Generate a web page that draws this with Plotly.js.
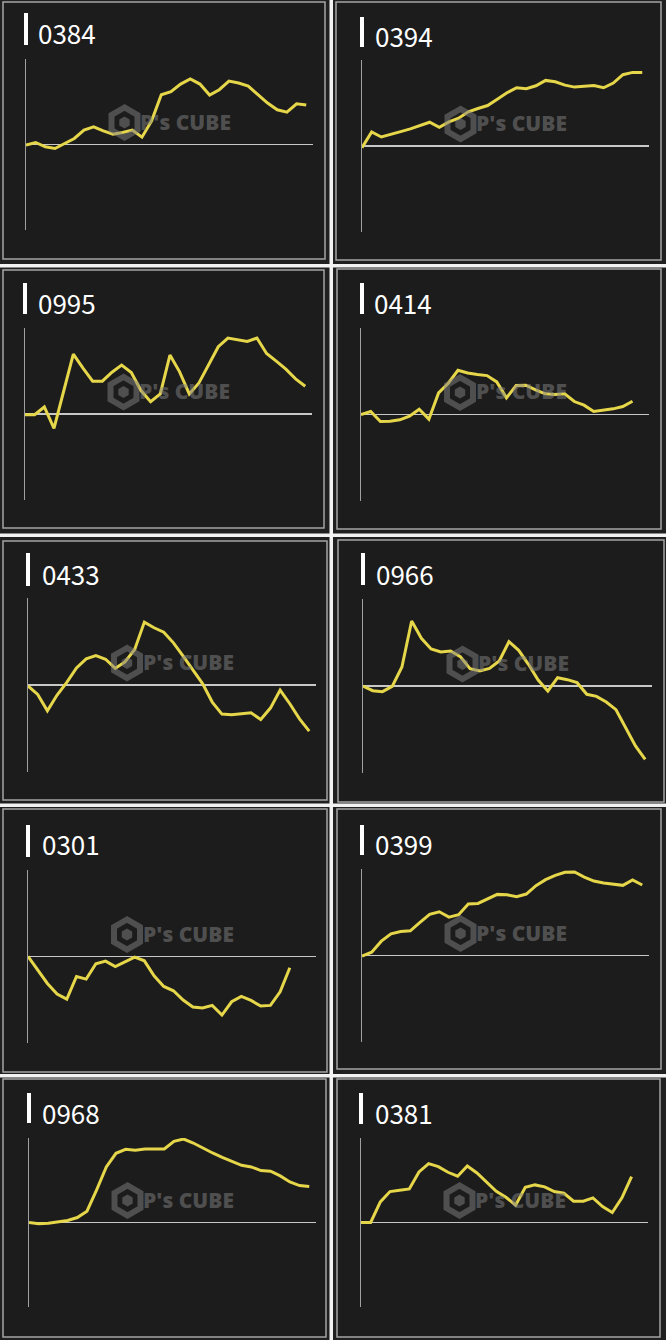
<!DOCTYPE html>
<html><head><meta charset="utf-8">
<script src="https://cdn.plot.ly/plotly-3.0.1.min.js"></script>
<style>html,body{margin:0;padding:0;background:#202020;}#chart{width:666px;height:1340px;}</style>
</head><body><div id="chart"></div>
<script>
const labels = ["0384","0394","0995","0414","0433","0966","0301","0399","0968","0381"];
const days = [1,2,3,4,5,6,7,8,9,10,11,12,13,14,15,16,17,18,19,20,21,22,23,24,25,26,27,28,29,30];

const s0384 = [-2,6,-7,-12,3,18,43,53,41,31,36,43,22,71,149,158,181,196,181,148,164,190,184,175,149,124,104,97,122,118];
const s0394 = [-5,42,27,34,43,51,60,71,56,72,83,102,112,121,140,159,174,171,180,196,192,182,176,178,181,174,188,213,220,220];
const s0995 = [-2,-2,21,-43,68,179,137,98,98,125,146,124,70,37,60,176,126,60,93,146,201,227,222,217,227,181,158,134,105,83];
const s0414 = [0,9,-21,-20,-16,-5,16,-14,65,94,133,125,120,117,98,50,87,88,74,62,60,62,39,28,9,12,17,24,40];
const s0433 = [-3,-28,-77,-30,8,51,78,88,77,50,69,106,188,171,158,126,86,45,4,-51,-87,-89,-87,-83,-103,-69,-15,-56,-101,-138];
const s0966 = [0,-14,-17,-1,57,195,143,111,102,105,88,52,45,53,75,133,107,65,18,-15,25,19,10,-25,-31,-48,-71,-127,-180,-220];
const s0301 = [0,-41,-81,-113,-128,-60,-68,-22,-14,-30,-17,-2,-13,-58,-90,-103,-131,-152,-155,-147,-176,-136,-120,-132,-149,-147,-106,-34];
const s0399 = [-2,10,43,65,72,74,99,123,131,115,122,154,156,170,183,182,176,184,209,227,240,249,250,235,223,217,213,210,226,211];
const s0968 = [0,-4,-2,3,6,15,34,98,167,208,220,217,221,221,221,244,251,239,223,209,196,184,172,167,156,154,140,122,111,108];
const s0381 = [0,0,62,93,97,101,152,177,168,151,139,170,149,121,94,76,52,106,113,107,93,88,64,64,74,48,30,74,138];

const series = [s0384,s0394,s0995,s0414,s0433,s0966,s0301,s0399,s0968,s0381];

const W = 666, H = 1340;
// plot boxes in px: [x0, x1, y0, y1, halfRange]
const boxes = [
  [26,313,59,230,256],[362,649,60,232,257],
  [25,312,328,500,257],[361,649,328,501,260],
  [28,316,598,772,260],[363,652,599,773,261],
  [28,316,870,1043,260],[362,649,869,1042,259],
  [29,316,1138,1307,254],[361,648,1138,1307,254]
];
// tile borders px: [x0,x1,y0,y1]
const tiles = [
  [3,325,2,259],[336,661,2,260],
  [3,324,270,528],[337,661,269,529],
  [3,327,541,800],[338,664,540,802],
  [3,327,809,1072],[337,661,809,1069],
  [3,326,1079,1337],[337,660,1079,1337]
];
// title bar px [x0,x1,y0,y1], text [x, ycenter]
const bars = [
  [24,28,13,45,38,32],[360,364,17,47,375,35],
  [23,27,283,314,38,302],[360,364,283,314,374,302],
  [26,30,553,586,42,572],[361,365,553,585,376,572],
  [26,30,825,857,42,843],[360,364,825,855,375,843],
  [27,31,1093,1123,42,1111],[359,363,1093,1124,375,1111]
];

const px = x => x / W;
const py = y => 1 - y / H;

const traces = [];
const layout = {
  width: W, height: H,
  margin: {l:0, r:0, t:0, b:0},
  paper_bgcolor: '#202020',
  plot_bgcolor: 'rgba(0,0,0,0)',
  showlegend: false,
  shapes: [],
  annotations: []
};

// white separators
const seps = [[0,666,264,267.5],[0,666,533.5,537],[0,666,803.5,807],[0,666,1074,1077.5],[329.5,333,0,1340]];
seps.forEach(s => layout.shapes.push({type:'rect', xref:'paper', yref:'paper', layer:'below',
  x0:px(s[0]), x1:px(s[1]), y0:py(s[3]), y1:py(s[2]), fillcolor:'#f2f2f2', line:{width:0}}));

tiles.forEach(t => layout.shapes.push({type:'rect', xref:'paper', yref:'paper', layer:'below',
  x0:px(t[0]), x1:px(t[1]), y0:py(t[3]), y1:py(t[2]), fillcolor:'#1c1c1c',
  line:{color:'#a4a4a4', width:1.5}}));

series.forEach((s, i) => {
  const n = i === 0 ? '' : String(i + 1);
  const b = boxes[i];
  traces.push({
    type:'scatter', mode:'lines', x: days.slice(0, s.length), y: s,
    xaxis:'x' + n, yaxis:'y' + n, hoverinfo:'skip',
    line:{color:'#e6d64a', width:3}
  });
  layout['xaxis' + n] = {
    domain:[px(b[0]), px(b[1])], range:[1, 30.7], anchor:'y' + n,
    showgrid:false, zeroline:false, showline:false, showticklabels:false, ticks:''
  };
  layout['yaxis' + n] = {
    domain:[py(b[3]), py(b[2])], range:[-b[4], b[4]], anchor:'x' + n,
    showgrid:false, zeroline:true, zerolinecolor:'#c8c8c8', zerolinewidth:1.4,
    showline:true, linecolor:'#a0a0a0', linewidth:1.4, showticklabels:false, ticks:''
  };
  const br = bars[i];
  layout.shapes.push({type:'rect', xref:'paper', yref:'paper', layer:'above',
    x0:px(br[0]), x1:px(br[1]), y0:py(br[3]), y1:py(br[2]), fillcolor:'#ffffff', line:{width:0}});
  layout.annotations.push({xref:'paper', yref:'paper', x:px(br[4] - 2), y:py(br[5] + 1),
    xanchor:'left', yanchor:'middle', showarrow:false, text:labels[i],
    font:{family:'"Noto Sans CJK JP", "Noto Sans", sans-serif', size:26, color:'#ffffff'}});
  // watermark
  const cx = (b[0] + b[1]) / 2, cy = (b[2] + b[3]) / 2;
  layout.annotations.push({xref:'paper', yref:'paper', x:px(cx + 16), y:py(cy - 23),
    xanchor:'center', yanchor:'middle', showarrow:false, text:"P's CUBE",
    font:{family:'"Open Sans", sans-serif', size:21, weight:800, color:'rgba(130,130,130,0.5)'}});
  const hx = cx - 45, hy = cy - 22, r = 15;
  let path = '';
  for (let k = 0; k < 6; k++) {
    const a = Math.PI / 2 + k * Math.PI / 3;
    path += (k === 0 ? 'M' : 'L') + px(hx + r * Math.cos(a)).toFixed(5) + ',' + py(hy - r * Math.sin(a)).toFixed(5);
  }
  path += 'Z';
  layout.shapes.push({type:'path', xref:'paper', yref:'paper', layer:'above', path:path,
    line:{color:'rgba(130,130,130,0.5)', width:6}, fillcolor:'rgba(0,0,0,0)'});
  let path2 = '';
  for (let k = 0; k < 6; k++) {
    const a = Math.PI / 2 + k * Math.PI / 3;
    path2 += (k === 0 ? 'M' : 'L') + px(hx + 6 * Math.cos(a)).toFixed(5) + ',' + py(hy - 6 * Math.sin(a)).toFixed(5);
  }
  path2 += 'Z';
  layout.shapes.push({type:'path', xref:'paper', yref:'paper', layer:'above', path:path2,
    line:{width:0}, fillcolor:'rgba(130,130,130,0.5)'});
});

Plotly.newPlot('chart', traces, layout, {staticPlot:true, displayModeBar:false});
</script>
</body></html>
